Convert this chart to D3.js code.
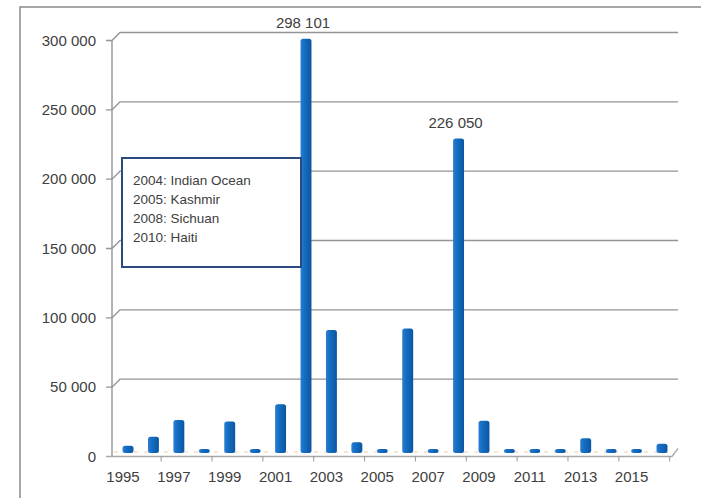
<!DOCTYPE html>
<html>
<head>
  <meta charset="UTF-8">
  <style>
    body {
      margin: 0;
      background: #fff;
      font-family: "Liberation Sans", Arial, sans-serif;
    }
    .tick-label { font-size: 15px; fill: #404040; }
    .note { font-size: 13.5px; fill: #404040; }
  </style>
</head>
<body>
  <svg width="701" height="498"></svg>
  <script src="https://d3js.org/d3.v7.min.js"></script>
  <script>
    // data
    let years = d3.range(1995, 2017).map(String);
    let deaths = [4500, 11000, 23000, 300, 22000, 1700, 34500, 298101, 88000, 7000, 700,
                  89000, 1800, 226050, 22500, 700, 1600, 750, 10000, 1300, 700, 6000];
    let yTicks = [0, 50000, 100000, 150000, 200000, 250000, 300000];
    let labelled = ["298 101", "226 050"]; // shown above the two tallest bars
    let notes = ["2004: Indian Ocean", "2005: Kashmir", "2008: Sichuan", "2010: Haiti"];

    let width = 701, height = 498;
    let svg = d3.select("svg");

    let x = d3.scaleBand()
        .domain(years)
        .range([115.3, 674.7])
        .paddingInner(0.57)
        .paddingOuter(0.285);

    let y = d3.scaleLinear()
        .domain([0, 300000])
        .range([452, 36]);

    let fmt = v => d3.format(",")(v).replace(/,/g, " ");
    let back = 3.5, front = 4.5, shift = 5;

    // outer frame (only top and left show)
    svg.append("path")
        .attr("d", "M20,498 L20,7 L701,7")
        .attr("fill", "none")
        .attr("stroke", "#8a8a8a")
        .attr("stroke-width", 1.5);

    // gridlines with the small 3D slant
    let grid = svg.append("g");
    grid.selectAll("path")
        .data(yTicks.filter(d => d > 0))
        .enter()
        .append("path")
        .attr("d", d => `M106,${y(d) + front} L112,${y(d) + front} L120,${y(d) - back} L678,${y(d) - back}`)
        .attr("fill", "none")
        .attr("stroke", "#949494")
        .attr("stroke-width", 1.4);

    // y axis line
    svg.append("line")
        .attr("x1", 112).attr("x2", 112)
        .attr("y1", y(300000) + front).attr("y2", y(0) + front)
        .attr("stroke", "#949494").attr("stroke-width", 1.4);

    // floor
    svg.append("path")
        .attr("d", `M106,${y(0) + front} L112,${y(0) + front} L672,${y(0) + front} L678,${y(0) - back}`)
        .attr("fill", "none")
        .attr("stroke", "#a8a8a8")
        .attr("stroke-width", 1.3);
    svg.append("line")
        .attr("x1", 114).attr("x2", 676)
        .attr("y1", y(0)).attr("y2", y(0))
        .attr("stroke", "#f3c9a0")
        .attr("stroke-dasharray", "4,6")
        .attr("stroke-width", 1.2);

    // x ticks, one per pair of years
    let pairEnds = years.filter((d, i) => i % 2 === 1);
    svg.append("g").selectAll("line")
        .data(pairEnds)
        .enter()
        .append("line")
        .attr("x1", d => x(d) + x.bandwidth() + x.step() * x.paddingInner() / 2 - shift)
        .attr("x2", d => x(d) + x.bandwidth() + x.step() * x.paddingInner() / 2 - shift)
        .attr("y1", y(0) + front)
        .attr("y2", y(0) + front + 5)
        .attr("stroke", "#999");

    // y tick labels
    svg.append("g").selectAll("text")
        .data(yTicks)
        .enter()
        .append("text")
        .attr("class", "tick-label")
        .attr("x", 96)
        .attr("y", d => y(d) + front)
        .attr("dy", "0.35em")
        .attr("text-anchor", "end")
        .text(fmt);

    // x tick labels, every other year
    svg.append("g").selectAll("text")
        .data(years.filter((d, i) => i % 2 === 0))
        .enter()
        .append("text")
        .attr("class", "tick-label")
        .attr("x", d => x(d) + x.bandwidth() / 2 - shift)
        .attr("y", 482)
        .attr("text-anchor", "middle")
        .text(d => d);

    // bar shading, light strip on the left like the 3D columns
    let grad = svg.append("defs").append("linearGradient")
        .attr("id", "barGrad")
        .attr("x1", "0").attr("x2", "1").attr("y1", "0").attr("y2", "0");
    grad.append("stop").attr("offset", "0%").attr("stop-color", "#2a7fd0");
    grad.append("stop").attr("offset", "30%").attr("stop-color", "#1670c6");
    grad.append("stop").attr("offset", "100%").attr("stop-color", "#0a56a2");

    svg.append("g").selectAll("rect")
        .data(years)
        .enter()
        .append("rect")
        .attr("x", d => x(d))
        .attr("width", x.bandwidth())
        .attr("y", (d, i) => Math.min(y(deaths[i]), y(0) - 3))
        .attr("height", (d, i) => Math.max(y(0) - y(deaths[i]), 3) + 1)
        .attr("rx", 2.5)
        .attr("fill", "url(#barGrad)");

    // value labels on the two peaks
    let peaks = [7, 13];
    svg.append("g").selectAll("text")
        .data(peaks)
        .enter()
        .append("text")
        .attr("class", "tick-label")
        .attr("x", d => x(years[d]) + x.bandwidth() / 2 - 3)
        .attr("y", d => y(deaths[d]) - 11)
        .attr("text-anchor", "middle")
        .text((d, i) => labelled[i]);

    // note box
    let box = svg.append("g");
    box.append("rect")
        .attr("x", 122).attr("y", 158)
        .attr("width", 179).attr("height", 109)
        .attr("fill", "#fff")
        .attr("stroke", "#2b4a7e")
        .attr("stroke-width", 2);
    box.selectAll("text")
        .data(notes)
        .enter()
        .append("text")
        .attr("class", "note")
        .attr("x", 133)
        .attr("y", (d, i) => 184.5 + i * 19.3)
        .text(d => d);
  </script>
</body>
</html>
